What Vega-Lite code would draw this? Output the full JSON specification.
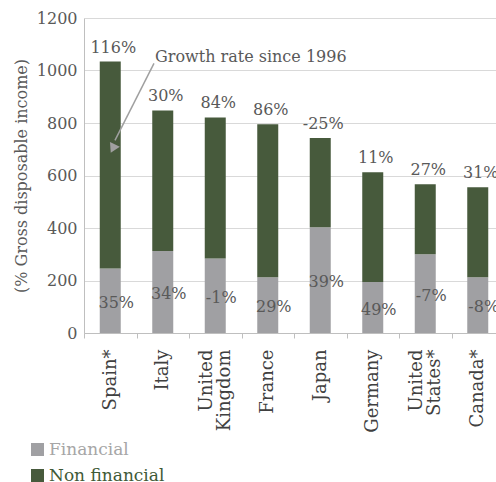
{
  "$schema": "https://vega.github.io/schema/vega-lite/v6.json",
  "autosize": "none",
  "width": 412,
  "height": 315,
  "padding": {"left": 84, "top": 18, "right": 0, "bottom": 149},
  "background": "white",
  "config": {
    "font": "DejaVu Serif",
    "view": {"stroke": null},
    "axis": {"labelFont": "DejaVu Serif", "titleFont": "DejaVu Serif"},
    "legend": {"labelFont": "DejaVu Serif"}
  },
  "data": {
    "values": [
      {"country": "Spain*", "financial": 246, "total": 1034, "fin_growth": "35%", "total_growth": "116%"},
      {"country": "Italy", "financial": 312, "total": 848, "fin_growth": "34%", "total_growth": "30%"},
      {"country": "United Kingdom", "financial": 284, "total": 821, "fin_growth": "-1%", "total_growth": "84%"},
      {"country": "France", "financial": 212, "total": 795, "fin_growth": "29%", "total_growth": "86%"},
      {"country": "Japan", "financial": 403, "total": 743, "fin_growth": "39%", "total_growth": "-25%"},
      {"country": "Germany", "financial": 194, "total": 612, "fin_growth": "49%", "total_growth": "11%"},
      {"country": "United States*", "financial": 300, "total": 567, "fin_growth": "-7%", "total_growth": "27%"},
      {"country": "Canada*", "financial": 212, "total": 555, "fin_growth": "-8%", "total_growth": "31%"}
    ]
  },
  "layer": [
    {
      "encoding": {
        "x": {
          "field": "country", "type": "nominal", "sort": null,
          "scale": {"range": [0, 420], "paddingInner": 0.6, "paddingOuter": 0.3},
          "axis": {
            "title": null, "labelAngle": -90, "labelFontSize": 18, "labelColor": "#404040",
            "labelExpr": "indexof(datum.label, 'United') == 0 ? split(datum.label, ' ') : datum.label",
            "labelLineHeight": 18,
            "tickOffset": -26.25,
            "labelOffset": {"condition": {"test": "indexof(datum.value, 'United') == 0", "value": 17}, "value": 26.25},
            "tickSize": 5, "tickColor": "#bfbfbf",
            "domainColor": "#bfbfbf", "labelPadding": 11, "grid": false
          }
        }
      },
      "layer": [
        {
          "mark": {"type": "bar", "clip": false},
          "encoding": {
            "y": {
              "field": "financial", "type": "quantitative",
              "scale": {"domain": [0, 1200], "nice": false},
              "axis": {
                "title": "(% Gross disposable income)", "titleFontSize": 16, "titleFontWeight": "normal",
                "titleColor": "#595959", "titlePadding": 7, "format": "d",
                "values": [0, 200, 400, 600, 800, 1000, 1200],
                "labelFontSize": 16, "labelColor": "#595959", "labelPadding": 7,
                "ticks": false, "domainColor": "#bfbfbf", "gridColor": "#d9d9d9"
              }
            },
            "color": {
              "datum": "Financial", "type": "nominal",
              "scale": {"domain": ["Financial", "Non financial"], "range": ["#a0a0a3", "#475a3c"]},
              "legend": {
                "title": null, "orient": "none", "legendX": -55, "legendY": 423, "padding": 0,
                "symbolType": "square", "symbolSize": 169, "symbolStrokeWidth": 0,
                "labelFontSize": 17, "labelOffset": 3, "rowPadding": 8,
                "encoding": {
                  "labels": {
                    "fill": {"condition": {"test": "datum.value === 'Financial'", "value": "#a6a6a6"}, "value": "#3f5a37"}
                  }
                }
              }
            }
          }
        },
        {
          "mark": {"type": "bar", "clip": false},
          "encoding": {
            "y": {"field": "financial", "type": "quantitative"},
            "y2": {"field": "total"},
            "color": {"datum": "Non financial", "type": "nominal"}
          }
        },
        {
          "mark": {"type": "text", "fontSize": 16, "color": "#595959", "dy": -14, "dx": 3, "baseline": "middle"},
          "encoding": {
            "y": {"field": "total", "type": "quantitative"},
            "text": {"field": "total_growth"}
          }
        }
      ]
    },
    {
      "mark": {"type": "text", "fontSize": 16, "color": "#595959", "dy": 2, "dx": 6, "baseline": "middle"},
      "encoding": {
        "x": {
          "field": "country", "type": "nominal", "sort": null,
          "scale": {"range": [0, 420], "paddingInner": 0.6, "paddingOuter": 0.3},
          "axis": null
        },
        "y": {"field": "financial", "type": "quantitative", "scale": {"domain": [0, 2400], "nice": false}, "axis": null},
        "text": {"field": "fin_growth"}
      }
    },
    {
      "data": {"values": [{"x1": 1.333, "y1": 1027, "x2": 0.59, "y2": 734, "hx": 0.562, "hy": 708, "tx": 1.352, "ty": 1050, "label": "Growth rate since 1996"}]},
      "encoding": {
        "x": {"field": "x1", "type": "quantitative", "scale": {"domain": [0, 8], "range": [0, 420], "nice": false, "zero": false}, "axis": null},
        "y": {"field": "y1", "type": "quantitative", "scale": {"domain": [0, 1200], "nice": false}, "axis": null}
      },
      "layer": [
        {
          "mark": {"type": "rule", "color": "#a0a0a0", "strokeWidth": 1.5},
          "encoding": {"x2": {"field": "x2"}, "y2": {"field": "y2"}}
        },
        {
          "mark": {"type": "point", "shape": "triangle", "filled": true, "color": "#a0a0a0", "size": 120, "angle": 206, "opacity": 1},
          "encoding": {"x": {"field": "hx", "type": "quantitative"}, "y": {"field": "hy", "type": "quantitative"}}
        },
        {
          "mark": {"type": "text", "fontSize": 16, "color": "#595959", "align": "left", "baseline": "middle"},
          "encoding": {"x": {"field": "tx", "type": "quantitative"}, "y": {"field": "ty", "type": "quantitative"}, "text": {"field": "label"}}
        }
      ]
    }
  ],
  "resolve": {"scale": {"x": "independent", "y": "independent"}}
}
